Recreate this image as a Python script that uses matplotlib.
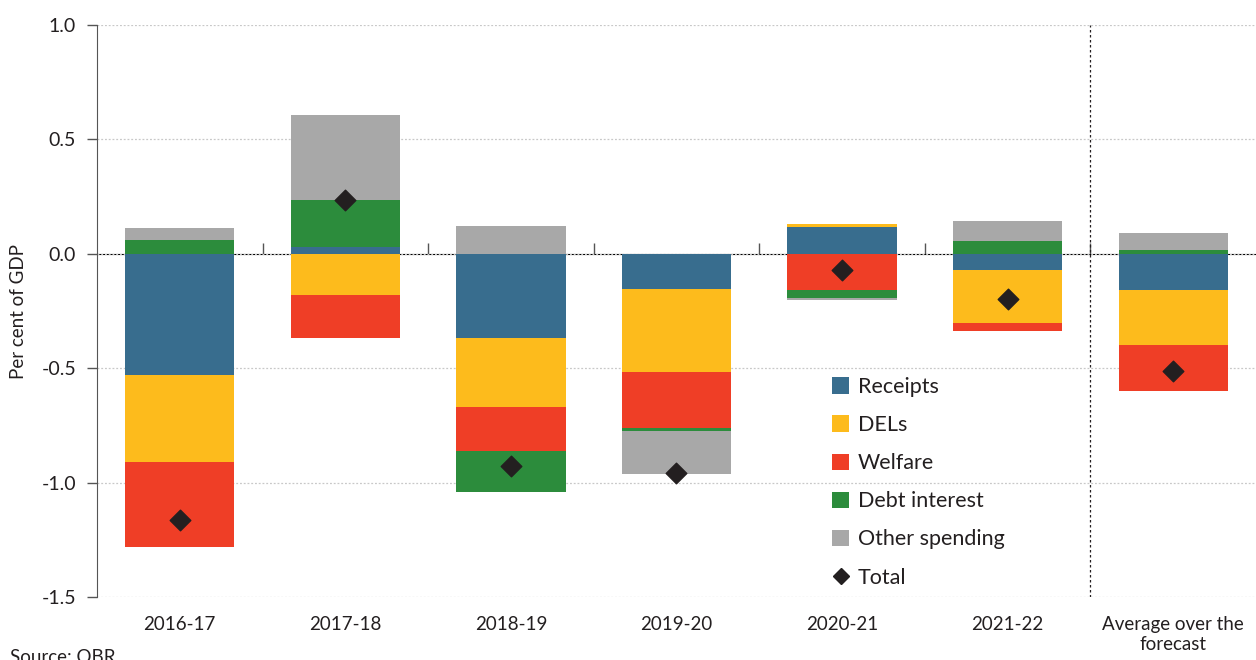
import matplotlib
matplotlib.use("Agg")
import matplotlib.pyplot as plt
import numpy as np
from matplotlib.lines import Line2D
from matplotlib.patches import Patch

plt.rcParams["font.family"] = ["Lato", "DejaVu Sans"]

# Data (per cent of GDP)
categories = ["2016-17", "2017-18", "2018-19", "2019-20", "2020-21", "2021-22",
              "Average over the\nforecast"]
receipts = [-0.53, 0.03, -0.37, -0.153, 0.119, -0.07, -0.16]
dels = [-0.38, -0.18, -0.30, -0.362, 0.012, -0.233, -0.24]
welfare = [-0.37, -0.187, -0.19, -0.245, -0.157, -0.036, -0.198]
debt_interest = [0.06, 0.206, -0.18, -0.013, -0.036, 0.058, 0.017]
other_spending = [0.055, 0.371, 0.122, -0.188, -0.009, 0.086, 0.073]
total = [-1.165, 0.236, -0.926, -0.96, -0.07, -0.197, -0.511]

series = [
    ("Receipts", receipts, "#386D8E"),
    ("DELs", dels, "#FDBB1C"),
    ("Welfare", welfare, "#EF3E26"),
    ("Debt interest", debt_interest, "#2C8C3C"),
    ("Other spending", other_spending, "#A8A8A8"),
]

fig = plt.figure(figsize=(12.56, 6.6), dpi=100)
ax = fig.add_axes([0.0772, 0.0955, 0.9228, 0.8665])

x = np.arange(len(categories))
pos_base = np.zeros(len(categories))
neg_base = np.zeros(len(categories))
for name, vals, color in series:
    vals = np.array(vals)
    bottoms = np.where(vals >= 0, pos_base, neg_base)
    ax.bar(x, vals, width=0.66, bottom=bottoms, color=color, zorder=2)
    pos_base = pos_base + np.clip(vals, 0, None)
    neg_base = neg_base + np.clip(vals, None, 0)

ax.scatter(x, total, marker="D", s=110, color="#231F20", zorder=4)

ax.set_xlim(-0.5, 6.5)
ax.set_ylim(-1.5, 1.0)
ax.set_yticks([-1.5, -1.0, -0.5, 0.0, 0.5, 1.0])
ax.set_yticklabels(["-1.5", "-1.0", "-0.5", "0.0", "0.5", "1.0"])
ax.yaxis.grid(True, color="#C8C8C8", linestyle=(0, (1.5, 1.5)), linewidth=0.9, zorder=0)
ax.tick_params(axis="y", direction="out", length=7, width=1, color="#555555",
               labelsize=14, pad=8, labelcolor="#231F20")

ax.set_xticks(x)
ax.set_xticklabels(categories)
ax.tick_params(axis="x", length=0, labelsize=13.5, pad=14, labelcolor="#231F20")

for side in ["top", "right", "bottom"]:
    ax.spines[side].set_visible(False)
ax.spines["left"].set_color("#555555")

# zero line with category separator ticks
zero_ax = ax.secondary_xaxis(0.6)
zero_ax.set_xticks(x[:-1] + 0.5)
zero_ax.tick_params(axis="x", direction="out", length=8, width=1, color="#555555",
                    labelbottom=False, labeltop=False)
zero_ax.spines["bottom"].set_color("#555555")
zero_ax.spines["bottom"].set_linewidth(1.2)

ax.axvline(5.5, color="#231F20", linestyle=(0, (2, 2)), linewidth=0.9, zorder=3)

ax.set_ylabel("Per cent of GDP", fontsize=13.5, color="#231F20", labelpad=10)

handles = [Patch(facecolor=c, label=n) for n, _, c in series]
handles.append(Line2D([], [], marker="D", linestyle="none", color="#231F20",
                      markersize=8, label="Total"))
leg = ax.legend(handles=handles, loc="upper left", bbox_to_anchor=(0.647, 0.458),
                bbox_transform=fig.transFigure, frameon=False, fontsize=15.5,
                handlelength=0.8, handleheight=0.8, handletextpad=0.4,
                labelspacing=0.84, labelcolor="#231F20")

fig.text(0.008, 0.017, "Source: OBR", fontsize=13.5, va="top", color="#231F20")

fig.savefig("out.png", dpi=100)
